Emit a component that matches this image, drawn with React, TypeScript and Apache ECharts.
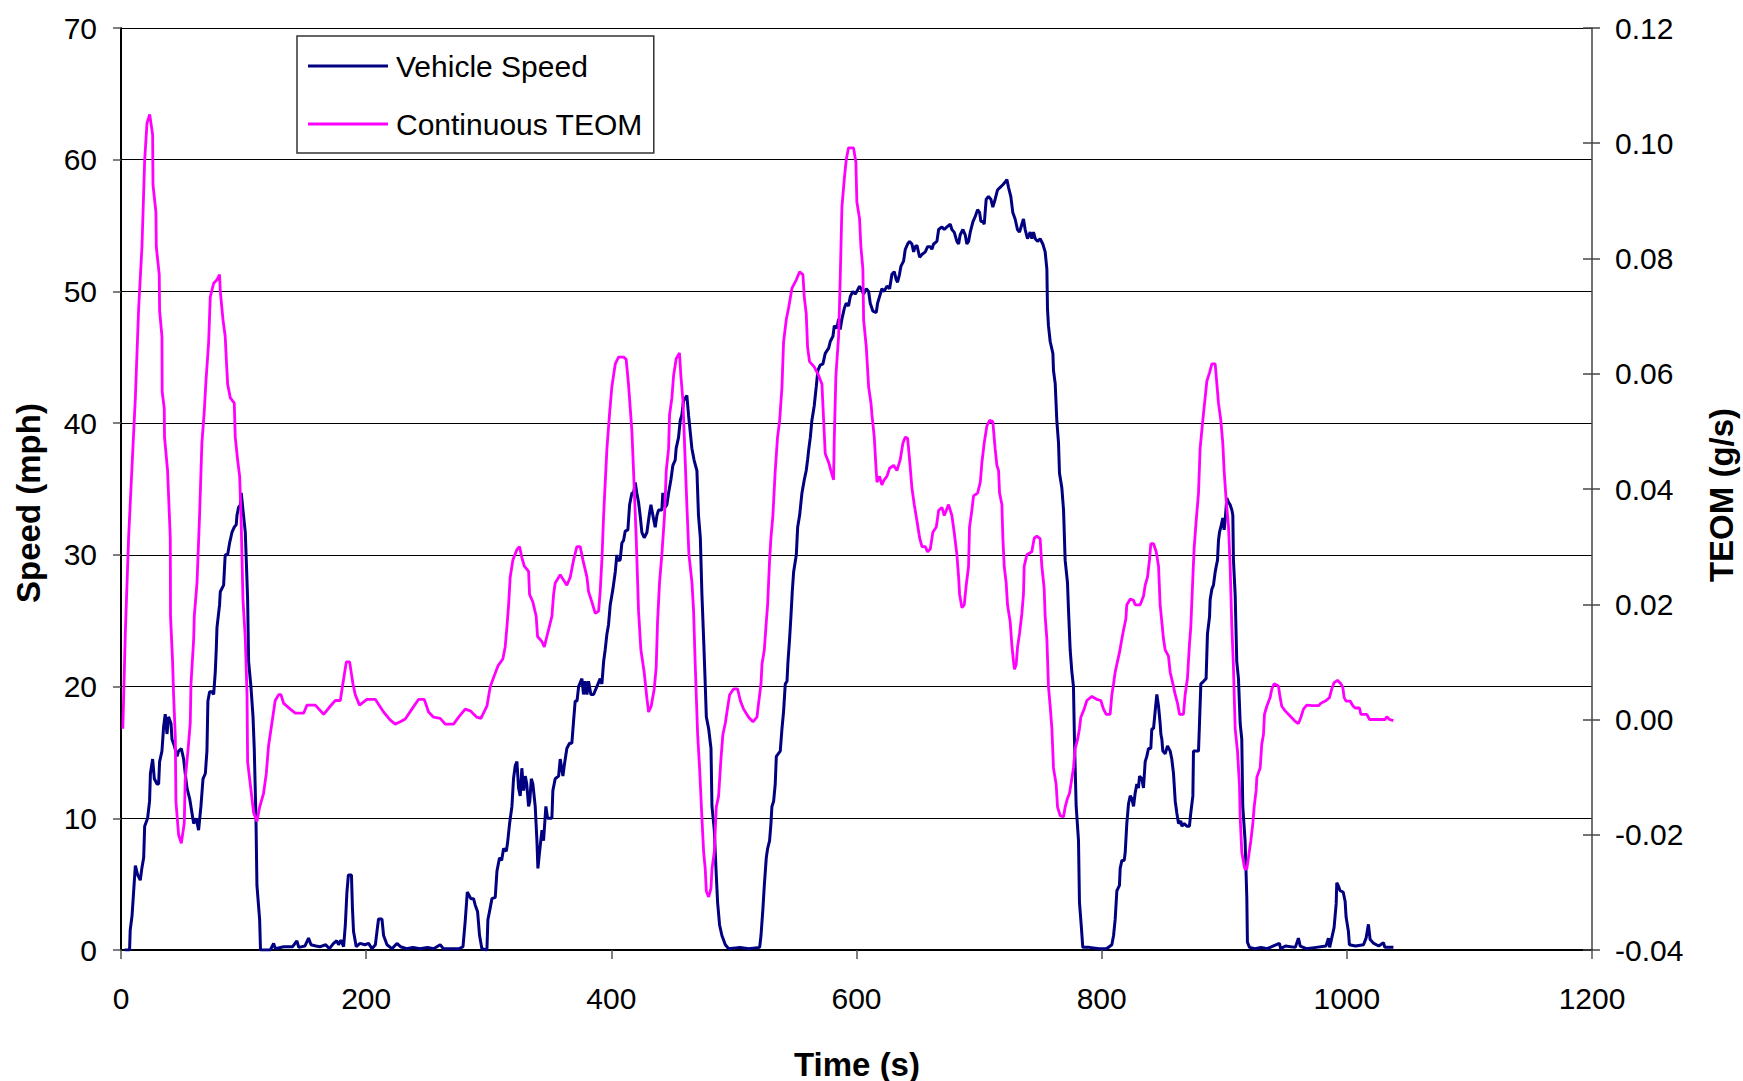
import React, { useEffect, useRef } from "react";
import * as echarts from "echarts";

// Axis setup / tick labels
const TIME_MIN = 0;
const TIME_MAX = 1200;
const TIME_STEP = 200;
const SPEED_MIN = 0;
const SPEED_MAX = 70;
const SPEED_STEP = 10;
const TEOM_MIN = -0.04;
const TEOM_MAX = 0.12;
const TEOM_STEP = 0.02;

const SERIES_NAMES = ["Vehicle Speed", "Continuous TEOM"];
const X_TITLE = "Time (s)";
const Y_LEFT_TITLE = "Speed (mph)";
const Y_RIGHT_TITLE = "TEOM (g/s)";

// Vehicle speed [time s, mph]
const speedPoints: [number, number][] = [
  [3, 0], [7, 0], [7.5, 1.5], [9, 2.6], [10, 4], [11.7, 6.4], [13.6, 5.7], [15.7, 5.3], [17, 6.2], [18.5, 7],
  [19.3, 9.4], [21.7, 10], [23.3, 11.3], [24, 13.4], [25.8, 14.5], [27.2, 13], [29.4, 12.6], [30.7, 12.6],
  [31.5, 14.3], [33.4, 15.1], [34.8, 17], [36.1, 17.9], [37.5, 16.4], [38.8, 17.7], [40.8, 17.2], [41.6, 16],
  [43.5, 15.5], [45.7, 14.7], [47, 15.1], [49.2, 15.3], [51.1, 14.5], [52.4, 13.4], [53.8, 12.3], [56, 11.5],
  [57.9, 10.4], [59.3, 9.6], [61.4, 10], [63.3, 9.1], [65.2, 10.9], [66.9, 13], [68.8, 13.4], [70.1, 15.1],
  [70.9, 18.9], [72.3, 19.6], [74.2, 19.6], [75.6, 19.4], [76.9, 21.1], [77.7, 22.8], [78.3, 24.5], [80.4, 26.2],
  [81, 27.2], [83.7, 27.7], [85, 30], [87, 30], [88.6, 30.9], [90.5, 31.7], [92.4, 32.1], [94, 32.3], [94.6, 33],
  [95.9, 33.6], [97.3, 33.8], [98.1, 34.7], [99.5, 33.4], [101.4, 31.7], [102.2, 29.6], [103.3, 26.6],
  [104.1, 21.9], [106, 20], [107.7, 17.7], [108.7, 15.3], [110.1, 10], [110.9, 4.9], [113.1, 2.3], [113.8, 0],
  [121.8, 0], [124.5, 0.5], [126, 0.1], [132.6, 0.25], [140, 0.25], [143.5, 0.7], [145, 0.2], [150, 0.3],
  [153, 0.9], [155, 0.4], [159, 0.3], [162.6, 0.25], [167, 0.4], [170, 0.1], [173.4, 0.5], [176, 0.7],
  [177.5, 0.4], [179.4, 0.75], [181.6, 0.25], [183, 1.9], [184.3, 4.4], [185.5, 5.7], [188, 5.7], [188.8, 3.2],
  [189.7, 1.4], [191.9, 0.25], [195, 0.5], [199, 0.4], [202, 0.5], [204.7, 0.1], [207.5, 0.4], [208.8, 1.4],
  [210.1, 2.35], [212.9, 2.35], [214.2, 1.1], [217, 0.4], [221, 0.1], [225.1, 0.5], [228, 0.25], [233, 0.1],
  [238, 0.2], [244, 0.1], [250, 0.2], [255, 0.1], [260.4, 0.4], [263, 0.1], [270, 0.1], [276, 0.1], [279, 0.25],
  [280.8, 2.2], [282.5, 4.4], [285.4, 3.9], [287.6, 3.9], [289, 3.4], [290.9, 2.9], [292.5, 1.1], [294.4, 0.1],
  [298.5, 0], [299.3, 2.3], [301.2, 3.2], [302.6, 3.9], [305.3, 4], [306.7, 6], [308.8, 7], [310.5, 6.8],
  [312.1, 7.7], [314.3, 7.5], [315.3, 8.1], [317, 9.6], [318.9, 10.9], [320.2, 13], [321.6, 14], [323, 14.3],
  [324.3, 12.3], [325.7, 11.7], [327, 13.8], [328.4, 12.1], [329.8, 13.2], [331, 12.6], [332.5, 10.9],
  [333.5, 11.3], [334.7, 13], [336, 12.6], [337.9, 10.9], [339.3, 8.3], [340.1, 6.2], [341.4, 7.4], [343.4, 9.1],
  [344.7, 8.3], [346.6, 10.9], [348, 10], [351.5, 10], [352.3, 12.1], [354.2, 13], [357, 13.2], [358.3, 14.5],
  [360.5, 13.2], [361.6, 14], [363.7, 15.3], [365.9, 15.7], [367.8, 15.7], [369.2, 17.4], [370.5, 18.9],
  [372, 18.9], [373.3, 20], [376, 20.6], [377.3, 19.4], [378.7, 20.4], [380.1, 19.4], [381.4, 20.4],
  [383.3, 19.4], [385.5, 19.4], [388.2, 20], [390.9, 20.6], [392.3, 20.2], [393.7, 21.9], [395, 22.8],
  [396.4, 24], [397.7, 24.7], [399.1, 26.2], [401.3, 27.4], [403.2, 28.7], [404.5, 30], [405.1, 29.6],
  [407.2, 29.6], [408.6, 30.9], [410, 31.1], [411.3, 31.8], [413.5, 31.9], [414.9, 33.8], [416.8, 34.7],
  [418.1, 34.7], [419.5, 35.5], [420.8, 34.7], [422.2, 34], [423.5, 33], [424.9, 31.7], [426.8, 31.3],
  [429, 31.7], [431.2, 33.2], [432.3, 33.8], [433.9, 33], [435.8, 32.1], [437.2, 33], [438.5, 33.4],
  [441.2, 33.4], [442, 34.7], [443.9, 33.6], [445.3, 33.8], [446.7, 34.7], [448.6, 35.7], [450.2, 36.8],
  [452.1, 37.2], [452.9, 38.1], [454.8, 38.9], [456.2, 40.2], [457.5, 40.6], [458.9, 41.7], [460.3, 41.9],
  [461.6, 42.1], [463, 40.6], [464.3, 39.4], [465.7, 38.1], [467.5, 37.2], [469.8, 36.4], [471.1, 33],
  [472.6, 31.3], [473.9, 27], [475.3, 23.6], [476.6, 20.2], [477.5, 17.7], [479.4, 16.8], [481.3, 15.3],
  [482.1, 10.9], [484, 9.1], [485.6, 5.7], [486.7, 3.6], [488.3, 1.9], [490.2, 1.1], [493, 0.4], [495.7, 0.1],
  [505, 0.2], [512, 0.1], [521, 0.2], [522.1, 1.1], [523.7, 3.2], [524.8, 4.9], [526.4, 7], [527.5, 7.7],
  [529.1, 8.3], [530.2, 9.6], [531, 10.9], [532.4, 11.3], [533.7, 12.6], [534.6, 14.7], [537.8, 15.1],
  [539.2, 16.8], [540.5, 18.1], [541.9, 20.2], [543.3, 20.4], [544.1, 21.9], [545.4, 23.6], [546.5, 25.3],
  [547.6, 27.2], [548.7, 28.7], [550.9, 30], [552, 32.1], [553.6, 33], [555.5, 34.7], [557.4, 35.7], [559, 36.4],
  [560.1, 37.2], [560.9, 37.9], [562.3, 38.9], [563.6, 40.2], [565.5, 41.3], [567.2, 42.8], [568.5, 44],
  [570.4, 44.4], [572.6, 44.5], [574.5, 45.3], [577.3, 45.7], [578.6, 46.2], [580.8, 46.6], [581.9, 47.4],
  [584, 47.2], [585.4, 47.9], [586.7, 47.1], [588.1, 47.9], [590, 48.7], [591.6, 49.1], [593.5, 48.9],
  [594.9, 49.6], [597, 50], [598.9, 49.8], [600.3, 50], [602.5, 50.4], [604.4, 50.1], [605.8, 49.8], [608, 50.2],
  [609.9, 50], [611.2, 49.1], [613.4, 48.5], [616.1, 48.4], [617.2, 49.1], [619.4, 49.8], [620.7, 50.2],
  [622.6, 50], [624.8, 50.4], [627, 50.2], [628.9, 51.3], [630.8, 51.5], [632.4, 50.9], [633.5, 50.7],
  [635.1, 51.3], [636.2, 51.9], [638.4, 52.3], [639.8, 53.2], [641.7, 53.6], [643.3, 53.8], [645.2, 53.6],
  [646.6, 53], [647.9, 53.4], [649.3, 53.5], [651.5, 52.6], [653.4, 52.8], [656.1, 53], [658, 53.4],
  [660.2, 53.4], [661.5, 53.2], [662.9, 53.6], [665.6, 53.8], [667, 54.7], [669.7, 54.9], [671.6, 54.7],
  [673.8, 54.9], [676.5, 55.1], [677.8, 54.7], [679.7, 54.5], [681.9, 53.8], [683.3, 53.6], [684.6, 54.3],
  [686.8, 54.7], [688.7, 54.3], [690, 53.6], [691.4, 53.8], [692.8, 54.5], [695, 55.3], [696.9, 55.7],
  [698.8, 56.2], [700.4, 56], [701.5, 55.3], [703.1, 55.3], [704.2, 55.1], [705.8, 57], [707.7, 57.2],
  [709.6, 57], [711.2, 56.4], [713.1, 57], [715, 57.7], [717.2, 57.9], [719.4, 58.1], [721.3, 58.3],
  [722.7, 58.5], [724, 57.9], [725.9, 57.2], [727.5, 56], [729.4, 55.5], [731.3, 54.7], [733, 54.5],
  [734.9, 55.1], [736.2, 55.5], [737.6, 54.7], [739.5, 54], [741.7, 54.5], [743, 54], [744.4, 54.5],
  [745.8, 54], [747.7, 53.8], [749.8, 54], [752, 53.6], [753.9, 53], [755.3, 51.7], [755.8, 48.7],
  [756.6, 47.4], [758, 46.2], [760.2, 45.3], [760.7, 44], [762.1, 43], [763.4, 40.2], [764.8, 38.5],
  [765.6, 36.2], [767.5, 35.1], [768.9, 33.4], [770.2, 29.6], [772.1, 27.9], [773, 25.7], [774.3, 22.8],
  [775.7, 21.1], [777, 20], [777.8, 16], [779.2, 10.9], [781.1, 8.3], [781.9, 3.6], [783.3, 1.9], [784.6, 0.2],
  [790, 0.2], [798, 0.1], [804, 0.1], [808.3, 0.4], [809.7, 1.1], [811, 2.3], [812.4, 4.5], [814.5, 4.9],
  [815.1, 6.2], [816.5, 6.8], [818.4, 6.8], [819.2, 7.4], [820.5, 9.6], [821.9, 11.1], [823.3, 11.7],
  [824.6, 11.5], [826, 10.9], [827.3, 11.9], [828.7, 12.6], [830, 12.3], [830.9, 13.2], [832.8, 13],
  [834.1, 12.3], [835.5, 14.3], [836.8, 14.7], [838.2, 15.3], [840.1, 15.3], [840.9, 16.8], [842.3, 16.8],
  [843.6, 18.1], [845, 19.4], [846.4, 18.5], [847.7, 17.2], [848.3, 16.4], [849.1, 16], [849.9, 15.1],
  [851.8, 14.9], [853.7, 15.5], [855.9, 15.1], [857.2, 14.5], [858.6, 13.4], [860, 11.3], [861.3, 10.4],
  [862.7, 9.6], [864.6, 9.8], [865.4, 9.4], [867.3, 9.6], [869.5, 9.4], [871.6, 9.4], [872.7, 10.4],
  [874.4, 11.7], [874.9, 15.1], [879, 15.1], [879.8, 17.2], [880.9, 20.2], [883.1, 20.4], [885.2, 20.6],
  [886.3, 24], [888, 25.3], [888.5, 26.6], [889.9, 27.4], [891.2, 27.7], [892.6, 28.7], [893.4, 29.1],
  [894.5, 29.6], [895.3, 31.1], [896.1, 31.7], [897.2, 32.1], [898.8, 32.8], [899.9, 31.9], [900.7, 32.6],
  [902.1, 34.3], [903.5, 34], [904.8, 33.8], [906.2, 33.4], [907, 33], [907.5, 29.6], [908.9, 27],
  [910.2, 21.9], [911.6, 20.6], [913, 17.2], [914.3, 16], [915.1, 10.9], [917, 8.3], [918.4, 4], [918.9, 0.6],
  [920.6, 0.2], [925, 0.1], [930, 0.2], [935, 0.1], [945, 0.5], [946, 0.1], [950, 0.3], [958, 0.2],
  [960.5, 0.9], [962, 0.3], [967, 0.1], [975, 0.2], [983, 0.3], [985, 0.9], [986, 0.2], [989.6, 1.7],
  [991.3, 3.5], [991.8, 5.1], [993, 4.9], [994.5, 4.5], [997, 4.4], [998.6, 3.7], [999.4, 2.5], [1001.3, 1.4],
  [1002.1, 0.4], [1007, 0.3], [1013.6, 0.4], [1015.7, 0.9], [1017.6, 1.95], [1019, 0.8], [1022, 0.5],
  [1026, 0.3], [1029.9, 0.55], [1031, 0.2], [1038, 0.2],
];

// Continuous TEOM [time s, g/s]
const teomPoints: [number, number][] = [
  [1.5, -0.0016], [3.5, 0.0149], [6.2, 0.0315], [9, 0.044], [11.7, 0.0558], [14.4, 0.0714], [17.1, 0.082],
  [19.3, 0.097], [21.2, 0.1035], [23.4, 0.105], [25.8, 0.1015], [26.1, 0.0928], [28.5, 0.088], [28.8, 0.082],
  [31.2, 0.0772], [31.5, 0.0709], [33.4, 0.0665], [33.6, 0.0568], [35.3, 0.054], [35.5, 0.049], [38, 0.0432],
  [40.2, 0.0315], [40.4, 0.0179], [42.1, 0.01], [42.9, 0.0043], [44.3, -0.003], [44.8, -0.0142], [47, -0.02],
  [49.2, -0.0215], [51.6, -0.018], [52.4, -0.0103], [54.6, -0.0055], [56.5, -0.0006], [57.1, 0.0062],
  [59.3, 0.014], [59.8, 0.018], [62, 0.0237], [64.1, 0.0354], [66, 0.048], [67.9, 0.0534], [69.3, 0.0587],
  [71.5, 0.0655], [72.8, 0.0733], [75.6, 0.0757], [78.3, 0.0763], [80.4, 0.0772], [81, 0.0743], [83.2, 0.0694],
  [85, 0.0665], [85.9, 0.0626], [87, 0.0582], [89.2, 0.0558], [92.4, 0.0549], [93.2, 0.049], [95.1, 0.0451],
  [96.8, 0.0422], [97.9, 0.0354], [99.5, 0.0208], [101.4, 0.014], [102.8, 0.0043], [103.3, -0.0074],
  [105.5, -0.0113], [108.2, -0.0162], [110.9, -0.0177], [113.1, -0.0152], [116.3, -0.0128], [118.5, -0.0094],
  [120.4, -0.0045], [123.1, -0.0006], [125.8, 0.0033], [128.6, 0.0043], [130.5, 0.0043], [132.7, 0.0028],
  [138.1, 0.0018], [142.2, 0.0011], [149, 0.0011], [151.7, 0.0025], [158.5, 0.0025], [165.3, 0.0009],
  [170.7, 0.0023], [174.8, 0.0033], [178.9, 0.0033], [181, 0.0062], [183.8, 0.01], [186.5, 0.01],
  [189.2, 0.0062], [191.1, 0.0043], [194.6, 0.0025], [200.6, 0.0035], [207.4, 0.0035], [214.2, 0.0013],
  [219.7, -0.0001], [223.7, -0.0008], [227.8, -0.0004], [231.9, 0.0001], [237.3, 0.0018], [242.8, 0.0035],
  [247.4, 0.0035], [250.9, 0.0013], [255, 0.0004], [260.4, 0.0002], [264.5, -0.0008], [271.3, -0.0008],
  [275.4, 0.0004], [280.8, 0.0018], [284.9, 0.0015], [290.3, 0.0004], [293.6, 0.0002], [298.5, 0.0023],
  [301.2, 0.0057], [304.7, 0.0077], [307.5, 0.0093], [311.5, 0.0105], [313.4, 0.0126], [314.8, 0.016],
  [316.2, 0.0199], [317.5, 0.0247], [319.7, 0.0277], [323, 0.0295], [325.1, 0.03], [327, 0.0281], [329, 0.0266],
  [332.5, 0.0257], [333.3, 0.0217], [336, 0.0204], [338.7, 0.0179], [339.8, 0.0144], [343.4, 0.0135],
  [345.3, 0.0126], [347.4, 0.0144], [351.5, 0.0179], [352.9, 0.0217], [354.2, 0.0237], [358.3, 0.0251],
  [361, 0.0242], [363.7, 0.0233], [366.5, 0.0247], [369.2, 0.0277], [371.9, 0.03], [374.6, 0.03],
  [376.8, 0.0277], [380.1, 0.0247], [381.4, 0.0222], [384.1, 0.0204], [386.9, 0.0184], [389.6, 0.0188],
  [390.9, 0.0222], [392.3, 0.0277], [393.7, 0.0354], [396.4, 0.047], [398.5, 0.0529], [400.4, 0.0577],
  [403.2, 0.0617], [405.9, 0.0629], [410, 0.0629], [412.1, 0.0625], [414, 0.0582], [416.8, 0.05],
  [418.1, 0.0432], [420.3, 0.0315], [422.2, 0.0188], [424.1, 0.0121], [426.8, 0.0082], [429, 0.0037],
  [430.4, 0.0013], [432.5, 0.0023], [435, 0.0053], [436.6, 0.0091], [437.7, 0.0169], [439.3, 0.0237],
  [441.2, 0.0286], [443.4, 0.0354], [444.8, 0.0432], [446.7, 0.047], [447.5, 0.0529], [449.4, 0.0558],
  [450.8, 0.0597], [452.9, 0.0626], [455.6, 0.0636], [456.7, 0.0597], [458.4, 0.0554], [459.7, 0.048],
  [461.6, 0.0373], [463.3, 0.0286], [465.8, 0.0237], [467.1, 0.0188], [468.5, 0.0091], [470.4, -0.0026],
  [472, -0.0084], [473.9, -0.0171], [475.3, -0.023], [476.6, -0.0259], [477.5, -0.0298], [479.4, -0.0308],
  [481.3, -0.0293], [482.1, -0.0259], [484, -0.023], [485.6, -0.0152], [487.5, -0.0133], [489.4, -0.0069],
  [491, -0.0026], [493, -0.0006], [494.3, 0.0013], [496.5, 0.0043], [499.7, 0.0053], [503, 0.0053],
  [505.2, 0.0033], [507.9, 0.0018], [512, 0.0004], [515.5, -0.0004], [518.8, 0.0004], [520.1, 0.0028],
  [522.1, 0.0062], [522.9, 0.0096], [524.8, 0.0121], [526.4, 0.0169], [527.5, 0.0199], [529.1, 0.0277],
  [530.2, 0.0315], [531.8, 0.0354], [533.7, 0.0432], [535.6, 0.049], [537.3, 0.0519], [539.2, 0.0577],
  [540.5, 0.0655], [542.7, 0.0694], [544.6, 0.0714], [547.3, 0.0748], [550.9, 0.0763], [553.6, 0.0777],
  [556.3, 0.0772], [557.4, 0.0733], [559, 0.0704], [560.1, 0.0646], [561.7, 0.0621], [565.5, 0.0612],
  [569.1, 0.0597], [571.8, 0.0582], [573.2, 0.0519], [574.5, 0.0461], [577.3, 0.0446], [579.1, 0.0432],
  [581.3, 0.0416], [581.9, 0.049], [583.2, 0.0597], [585.4, 0.0665], [586.7, 0.0763], [588.1, 0.0889],
  [590, 0.0937], [591.6, 0.0971], [593.5, 0.0992], [597.6, 0.0992], [599.5, 0.0967], [600.3, 0.0898],
  [602.5, 0.0869], [603.6, 0.082], [605.2, 0.0782], [605.8, 0.0694], [608, 0.0646], [609.9, 0.0577],
  [611.8, 0.0549], [612.6, 0.0529], [614.5, 0.049], [615.8, 0.0441], [616.7, 0.0412], [618.8, 0.0422],
  [620.7, 0.0407], [622.6, 0.0416], [624.8, 0.0422], [627, 0.0436], [630.3, 0.0441], [633, 0.0432],
  [635.7, 0.0451], [637.9, 0.048], [639.8, 0.049], [641.7, 0.0488], [643.3, 0.0451], [645.2, 0.0402],
  [647.1, 0.0373], [649.3, 0.0345], [651.5, 0.0315], [653.4, 0.03], [656.1, 0.03], [658, 0.0291],
  [660.2, 0.0296], [662.3, 0.0325], [665.1, 0.0334], [667, 0.0363], [669.7, 0.0368], [671.6, 0.0354],
  [675.1, 0.0373], [677.8, 0.0354], [679.7, 0.0325], [681.9, 0.0286], [683.3, 0.0247], [684.1, 0.0217],
  [686, 0.0194], [687.9, 0.0199], [689.5, 0.0233], [691.4, 0.0266], [692.2, 0.0334], [694.1, 0.0363],
  [695.5, 0.0388], [698.8, 0.0393], [701, 0.0412], [702.3, 0.0446], [704.2, 0.048], [706.4, 0.051],
  [708.6, 0.0519], [711.2, 0.0517], [713.1, 0.047], [714.5, 0.0441], [715.9, 0.0432], [716.7, 0.0393],
  [718.6, 0.0373], [719.4, 0.0315], [720.5, 0.0266], [722.1, 0.0237], [723.2, 0.0199], [725.4, 0.0169],
  [726.7, 0.013], [728.1, 0.01], [728.9, 0.0087], [730.3, 0.0096], [731.4, 0.0126], [733, 0.0149],
  [734.9, 0.0184], [736.2, 0.0217], [736.8, 0.0266], [739, 0.0286], [743, 0.0291], [745, 0.0315],
  [747.1, 0.0318], [749.8, 0.0314], [751.2, 0.0266], [753.1, 0.0227], [753.9, 0.0179], [755.3, 0.014],
  [756.6, 0.0057], [758, 0.0023], [759.4, -0.0016], [760.7, -0.0084], [762.9, -0.0113], [764, -0.0152],
  [766.2, -0.0167], [768.9, -0.0169], [770.2, -0.0152], [772.1, -0.0137], [773.8, -0.0128], [774.9, -0.0113],
  [777, -0.0084], [778.4, -0.005], [780.3, -0.0035], [781.9, -0.0016], [783, 0.0004], [785.7, 0.0018],
  [787.9, 0.0033], [792, 0.004], [796, 0.0035], [799.3, 0.0033], [801.5, 0.0018], [803.7, 0.0009],
  [806.9, 0.0009], [808.3, 0.0043], [809.7, 0.0062], [811, 0.0082], [812.4, 0.0096], [814.5, 0.0116],
  [816.5, 0.014], [817.8, 0.0155], [819.7, 0.0174], [820.5, 0.0199], [821.9, 0.0204], [823.3, 0.0209],
  [826, 0.0207], [827.3, 0.0199], [831.4, 0.0199], [834.1, 0.0214], [835.5, 0.0233], [837.4, 0.0247],
  [839, 0.0277], [840.1, 0.0305], [842.3, 0.0305], [844.5, 0.0291], [846.4, 0.0266], [847.7, 0.0199],
  [849.1, 0.0169], [850.4, 0.014], [851.8, 0.0121], [854.5, 0.011], [855.9, 0.0082], [858.1, 0.0062],
  [860, 0.0043], [861.9, 0.0028], [863.5, 0.0009], [866.7, 0.0009], [868.1, 0.0043], [870, 0.0072],
  [871.6, 0.013], [872.7, 0.016], [874.4, 0.0247], [875.4, 0.0296], [877.1, 0.0345], [879, 0.0393],
  [880.3, 0.047], [882.5, 0.0519], [884.4, 0.0558], [885.8, 0.0587], [888, 0.0602], [889.9, 0.0617],
  [892.6, 0.0617], [894, 0.0582], [895.3, 0.0549], [897.2, 0.0519], [898.8, 0.048], [899.9, 0.0432],
  [901.5, 0.0383], [903.5, 0.0334], [904.8, 0.0266], [906.2, 0.016], [907.5, 0.0091], [908.9, -0.0016],
  [910.8, -0.0055], [912.4, -0.0113], [913, -0.0171], [914.3, -0.023], [916.2, -0.0254], [917, -0.026],
  [918.4, -0.0259], [919.8, -0.0239], [921.7, -0.021], [923.3, -0.0181], [924.4, -0.0152], [926, -0.0123],
  [926.6, -0.01], [929.3, -0.0084], [930.6, -0.0043], [932, -0.0026], [932.8, 0.0009], [934.7, 0.0023],
  [937.4, 0.0038], [938.8, 0.0053], [940.7, 0.0062], [944.2, 0.0058], [945.6, 0.0038], [946.9, 0.0023],
  [949.7, 0.0015], [953.7, 0.0006], [957.8, -0.0003], [960.5, -0.0007], [962.4, 0.0003], [964.6, 0.0018],
  [967.3, 0.0025], [972.2, 0.0024], [976.9, 0.0024], [978.8, 0.0028], [983.1, 0.0033], [985.8, 0.0038],
  [987.7, 0.0053], [989.6, 0.0064], [992.4, 0.0068], [995.1, 0.0062], [996.7, 0.0056], [997.8, 0.0038],
  [999.4, 0.0032], [1002.7, 0.0032], [1004.9, 0.0024], [1006.8, 0.002], [1010.3, 0.002], [1011.4, 0.0009],
  [1016.3, 0.0009], [1018.5, 0], [1027.2, 0], [1031.2, 0], [1032.6, 0.0005], [1034.8, 0], [1038, -0.0002],
];

const FONT = '"Liberation Sans", Arial, Helvetica, sans-serif';

export default function App() {
  const ref = useRef<HTMLDivElement>(null);

  useEffect(() => {
    if (!ref.current) return;
    const chart = echarts.init(ref.current, null, { renderer: "svg" });

    const commonRight = {
      type: "value",
      position: "right",
      min: TEOM_MIN,
      max: TEOM_MAX,
      interval: TEOM_STEP,
      splitLine: { show: false },
    };

    const option: any = {
      animation: false,
      backgroundColor: "#ffffff",
      textStyle: { fontFamily: FONT, color: "#000" },
      grid: {
        left: 121,
        right: 151,
        top: 28,
        bottom: 131,
        containLabel: false,
        outerBoundsMode: "none",
      },
      legend: {
        data: SERIES_NAMES,
        orient: "vertical",
        left: 297,
        top: 36,
        padding: [15, 11, 14, 11],
        itemGap: 28,
        itemWidth: 80,
        itemHeight: 3,
        icon: "rect",
        backgroundColor: "#ffffff",
        borderColor: "#333333",
        borderWidth: 1.5,
        borderRadius: 0,
        textStyle: { fontSize: 30, color: "#000", fontFamily: FONT, padding: [0, 0, 0, 3] },
      },
      xAxis: {
        type: "value",
        min: TIME_MIN,
        max: TIME_MAX,
        interval: TIME_STEP,
        axisLine: { show: true, lineStyle: { color: "#000", width: 2 } },
        axisTick: { show: true, inside: false, length: 9, lineStyle: { color: "#555", width: 1.5 } },
        axisLabel: {
          fontSize: 30,
          color: "#000",
          margin: 33,
          fontFamily: FONT,
          formatter: (v: number) => String(Math.round(v)),
        },
        splitLine: { show: false },
      },
      yAxis: [
        {
          type: "value",
          position: "left",
          min: SPEED_MIN,
          max: SPEED_MAX,
          interval: SPEED_STEP,
          axisLine: { show: true, lineStyle: { color: "#000", width: 2 } },
          axisTick: { show: true, inside: false, length: 8, lineStyle: { color: "#555", width: 1.5 } },
          axisLabel: {
            fontSize: 30,
            color: "#000",
            margin: 24,
            fontFamily: FONT,
            formatter: (v: number) => String(Math.round(v)),
          },
          splitLine: { show: true, lineStyle: { color: "#000", width: 1 } },
        },
        {
          ...commonRight,
          axisLine: { show: true, lineStyle: { color: "#444", width: 1.5 } },
          axisTick: { show: true, inside: false, length: 8, lineStyle: { color: "#444", width: 1.5 } },
          axisLabel: {
            fontSize: 30,
            color: "#000",
            margin: 23,
            fontFamily: FONT,
            formatter: (v: number) => v.toFixed(2),
          },
        },
        {
          ...commonRight,
          axisLine: { show: false },
          axisTick: { show: true, inside: true, length: 9, lineStyle: { color: "#444", width: 1.5 } },
          axisLabel: { show: false },
        },
      ],
      series: [
        {
          name: SERIES_NAMES[0],
          type: "line",
          yAxisIndex: 0,
          data: speedPoints,
          symbol: "none",
          lineStyle: { color: "#000080", width: 3 },
          itemStyle: { color: "#000080" },
          z: 2,
        },
        {
          name: SERIES_NAMES[1],
          type: "line",
          yAxisIndex: 1,
          data: teomPoints,
          symbol: "none",
          lineStyle: { color: "#FF00FF", width: 2.8 },
          itemStyle: { color: "#FF00FF" },
          z: 3,
        },
      ],
      graphic: [
        {
          type: "text",
          x: 857,
          y: 1064,
          style: {
            text: X_TITLE,
            font: `bold 33px ${FONT}`,
            fill: "#000",
            align: "center",
            verticalAlign: "middle",
          },
        },
        {
          type: "text",
          x: 28,
          y: 503,
          rotation: Math.PI / 2,
          style: {
            text: Y_LEFT_TITLE,
            font: `bold 33px ${FONT}`,
            fill: "#000",
            align: "center",
            verticalAlign: "middle",
          },
        },
        {
          type: "text",
          x: 1721,
          y: 495,
          rotation: Math.PI / 2,
          style: {
            text: Y_RIGHT_TITLE,
            font: `bold 33px ${FONT}`,
            fill: "#000",
            align: "center",
            verticalAlign: "middle",
          },
        },
      ],
    };

    chart.setOption(option);
    return () => chart.dispose();
  }, []);

  return (
    <div
      ref={ref}
      style={{ position: "fixed", left: 0, top: 0, width: "1743px", height: "1081px", background: "#fff" }}
    />
  );
}
